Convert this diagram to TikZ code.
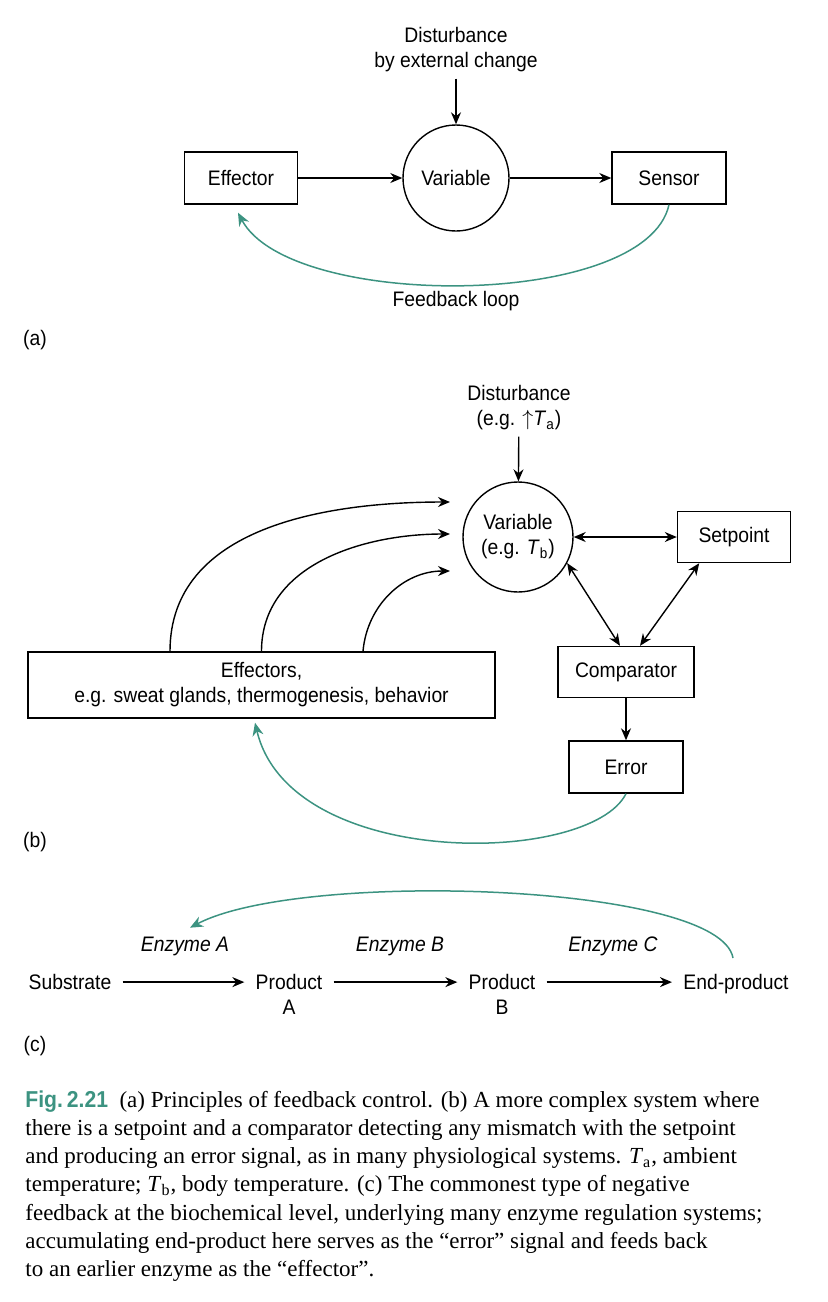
\documentclass[tikz,border=0pt]{standalone}
\usepackage{fontspec}
\setmainfont{Liberation Serif}
\setsansfont{Liberation Sans}[FakeStretch=0.92]
\usetikzlibrary{arrows.meta}
\definecolor{fbteal}{RGB}{60,147,129}

\begin{document}
\begin{tikzpicture}[x=0.5pt,y=-0.5pt,
  every node/.style={font=\sffamily\fontsize{10.5}{12.5}\selectfont,inner sep=0pt,align=center},
  box/.style={draw,line width=0.7pt,minimum width=#1,minimum height=26pt},
  circ/.style={draw,circle,line width=0.7pt,minimum size=#1},
  chem/.style={inner xsep=5.5pt,inner ysep=0pt,anchor=north},
  arr/.style={-{Stealth[length=6pt,width=5pt]},line width=0.7pt},
  darr/.style={{Stealth[length=6pt,width=5pt]}-{Stealth[length=6pt,width=5pt]},line width=0.7pt},
  fb/.style={-{Stealth[length=6.5pt,width=5.5pt]},fbteal,line width=0.75pt}]
\useasboundingbox (0,0) rectangle (828,1302);

\node (dist1) at (456,50) {Disturbance\\by external change};
\node[circ=53pt] (var1) at (456,178) {Variable};
\node[box=56.5pt] (eff) at (241,178) {Effector};
\node[box=57pt] (sens) at (669,178) {Sensor};
\node (fbl) at (456,301) {Feedback loop};
\node (la) at (35,340) {(a)};
\draw[arr,shorten <=3pt] (dist1) -- (var1);
\draw[arr] (eff) -- (var1);
\draw[arr] (var1) -- (sens);
\draw[fb] (sens.south) .. controls +(-23,105) and +(52,98) .. ([shift={(-1.5pt,-4pt)}]eff.south);

\node (dist2) at (519,408) {Disturbance\\(e.g. $\uparrow$\textit{T}\textsubscript{a})};
\node[circ=55pt] (var2) at (518,537) {Variable\\(e.g. \textit{T}\textsubscript{b})};
\node[box=56.5pt,minimum height=25.5pt] (setp) at (734,537) {Setpoint};
\node[box=68pt,minimum height=25.5pt] (comp) at (626,672) {Comparator};
\node[box=57pt] (err) at (626,767) {Error};
\node[box=233.5pt,minimum height=33pt] (effs) at (261.5,685) {Effectors,\\e.g. sweat glands, thermogenesis, behavior};
\node (lb) at (35,842) {(b)};
\coordinate (in1) at (450,502);
\coordinate (in2) at (450,534);
\coordinate (in3) at (450,571);
\draw[arr,shorten <=3pt] (dist2) -- (var2);
\draw[darr] (var2) -- (setp);
\draw[darr] (var2.-28) -- ([xshift=-3pt]comp.north);
\draw[darr] (setp.-143) -- ([xshift=7pt]comp.north);
\draw[arr] (comp) -- (err);
\draw[arr] ([xshift=-45.75pt]effs.north) to[out=90,in=180] (in1);
\draw[arr] (effs.north) to[out=90,in=180] (in2);
\draw[arr] ([xshift=50.75pt]effs.north) to[out=85,in=180] (in3);
\draw[fb] (err.south) .. controls +(-36,72) and +(35,148) .. ([shift={(-3.25pt,-2pt)}]effs.south);

\node[chem] (sub) at (70,974) {Substrate};
\node[chem] (pa) at (289,974) {Product\\A};
\node[chem] (pb) at (502,974) {Product\\B};
\node[chem] (endp) at (736,974) {End-product};
\node (enza) at (185,946) {\textit{Enzyme A}};
\node (enzb) at (400,946) {\textit{Enzyme B}};
\node (enzc) at (613,946) {\textit{Enzyme C}};
\node (lc) at (35,1046) {(c)};
\draw[arr] (sub.east) -- (sub.east -| pa.west);
\draw[arr] (sub.east -| pa.east) -- (sub.east -| pb.west);
\draw[arr] (sub.east -| pb.east) -- (sub.east -| endp.west);
\draw[fb] ([shift={(-1.5pt,8pt)}]endp.north) .. controls +(-13,-75) and +(110,-58) .. ([shift={(2.5pt,4.25pt)}]enza.north);

\node[anchor=north west,align=left,font=\rmfamily\fontsize{11.5}{14.15}\selectfont] (cap) at (25,1090)
  {{\sffamily\bfseries\color{fbteal}Fig.\,2.21}\enspace(a) Principles of feedback control. (b) A more complex system where\\
  there is a setpoint and a comparator detecting any mismatch with the setpoint\\
  and producing an error signal, as in many physiological systems. \textit{T}\textsubscript{a}, ambient\\
  temperature; \textit{T}\textsubscript{b}, body temperature. (c) The commonest type of negative\\
  feedback at the biochemical level, underlying many enzyme regulation systems;\\
  accumulating end-product here serves as the “error” signal and feeds back\\
  to an earlier enzyme as the “effector”.};
\end{tikzpicture}
\end{document}
